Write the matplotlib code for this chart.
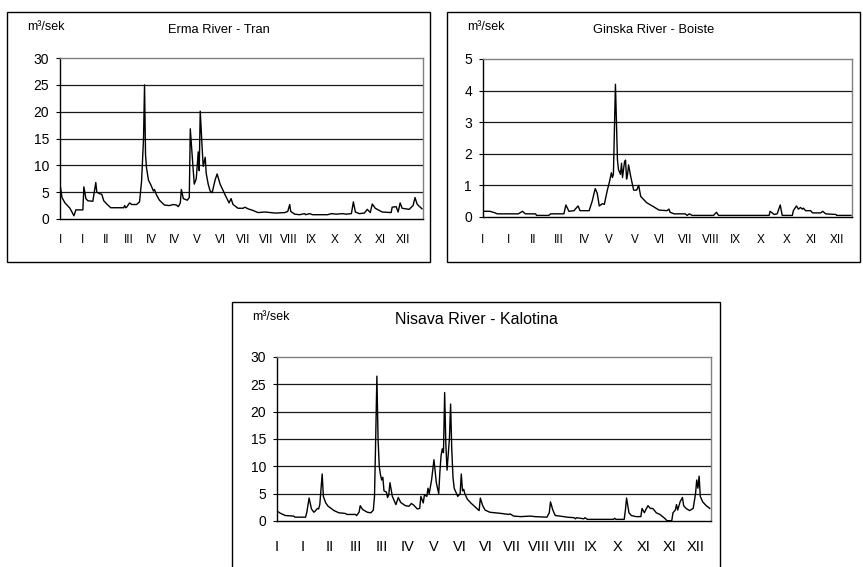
import numpy as np
import matplotlib
matplotlib.use('agg')
import matplotlib.pyplot as plt
from matplotlib.patches import Rectangle

plt.rcParams['font.family'] = ['Liberation Sans', 'DejaVu Sans']

# daily discharge, breakpoints (day of year, m3/s)
erma_day = [0, 2, 5, 10, 14, 16, 23, 24, 26, 28, 33, 36, 37, 40, 42, 44, 47, 51, 64, 65, 66, 67, 70, 72,
            77, 80, 82, 84, 85, 86, 87, 89, 91, 94, 95, 97, 100, 105, 110, 114, 117, 119, 121, 122,
            124, 128, 130, 131, 134, 135, 137, 139, 140, 141, 143, 144, 146, 147, 149, 151, 153, 156,
            158, 161, 166, 170, 172, 174, 179, 184, 186, 189, 194, 199, 206, 217, 226, 229, 231, 232,
            236, 241, 246, 247, 251, 254, 261, 269, 273, 278, 284, 288, 293, 295, 297, 301, 306, 309,
            312, 314, 317, 321, 324, 333, 334, 338, 340, 342, 344, 351, 355, 357, 359, 361, 364]
erma_q = [6.5, 4.0, 3.0, 2.0, 0.6, 1.7, 1.7, 6.0, 3.8, 3.4, 3.3, 6.8, 5.0, 4.7, 4.6, 3.4, 2.8, 2.1, 2.1,
          2.5, 2.1, 2.2, 3.0, 2.7, 2.7, 3.2, 7.0, 15.0, 25.0, 12.0, 9.5, 7.2, 6.5, 5.2, 5.5, 4.5, 3.5,
          2.6, 2.5, 2.7, 2.6, 2.3, 3.0, 5.5, 3.8, 3.5, 4.0, 16.8, 9.0, 6.5, 7.5, 12.5, 9.0, 20.1, 13.0,
          9.8, 11.5, 8.5, 6.5, 5.2, 4.9, 7.3, 8.4, 6.5, 4.5, 3.0, 3.8, 2.7, 2.0, 2.0, 2.2, 1.9, 1.6,
          1.2, 1.3, 1.1, 1.2, 1.4, 2.7, 1.4, 0.9, 0.8, 1.0, 0.8, 1.0, 0.8, 0.8, 0.8, 1.0, 0.9, 1.0,
          0.9, 1.0, 3.2, 1.3, 1.0, 1.1, 1.8, 1.2, 2.8, 2.0, 1.6, 1.3, 1.2, 2.2, 2.3, 1.3, 3.0, 2.0,
          1.8, 2.5, 4.0, 2.8, 2.4, 1.9]

ginska_day = [0, 7, 12, 14, 35, 39, 42, 52, 53, 65, 67, 80, 82, 85, 90, 94, 96, 105, 108, 111, 113, 115,
              118, 120, 123, 125, 127, 128, 129, 131, 133, 134, 136, 137, 138, 140, 141, 142, 143, 144,
              146, 147, 149, 152, 154, 156, 159, 162, 169, 174, 182, 184, 185, 189, 200, 202, 204, 207,
              228, 231, 233, 283, 284, 288, 291, 294, 296, 306, 307, 310, 312, 314, 316, 317, 319, 324,
              326, 334, 336, 339, 349, 350, 364]
ginska_q = [0.18, 0.18, 0.13, 0.1, 0.1, 0.18, 0.1, 0.1, 0.05, 0.05, 0.1, 0.1, 0.38, 0.18, 0.2, 0.35, 0.2,
            0.2, 0.5, 0.9, 0.75, 0.35, 0.42, 0.4, 0.85, 1.1, 1.4, 1.25, 1.35, 4.2, 1.8, 1.5, 1.35, 1.7,
            1.25, 1.75, 1.8, 1.2, 1.35, 1.65, 1.3, 1.15, 0.85, 0.85, 1.0, 0.65, 0.55, 0.45, 0.32, 0.22,
            0.2, 0.25, 0.15, 0.1, 0.1, 0.05, 0.1, 0.05, 0.05, 0.15, 0.05, 0.05, 0.18, 0.08, 0.1, 0.38,
            0.05, 0.05, 0.2, 0.35, 0.25, 0.3, 0.25, 0.28, 0.2, 0.2, 0.13, 0.13, 0.18, 0.1, 0.08, 0.05, 0.05]

nisava_day = [0, 3, 7, 14, 15, 24, 25, 27, 29, 31,
              32, 34, 35, 36, 38, 39, 41, 43, 48, 52,
              57, 59, 66, 67, 69, 70, 72, 76, 79, 81,
              82, 83, 84, 85, 86, 87, 88, 89, 90, 92,
              93, 94, 95, 97, 99, 100, 102, 104, 108, 111,
              113, 115, 118, 120, 121, 123, 124, 126, 127, 128,
              130, 132, 134, 136, 137, 138, 139, 140, 141, 142,
              143, 145, 146, 147, 148, 149, 151, 152, 154, 155,
              156, 157, 158, 160, 163, 167, 170, 171, 173, 175,
              179, 188, 195, 196, 199, 205, 213, 217, 227, 229,
              230, 232, 234, 238, 244, 250, 251, 252, 255, 258,
              259, 261, 283, 284, 285, 292, 293, 294, 296, 298,
              302, 306, 307, 309, 310, 312, 314, 316, 319, 322,
              326, 328, 332, 333, 335, 336, 337, 339, 341, 342,
              344, 347, 350, 352, 353, 354, 355, 356, 358, 361,
              364]
nisava_q = [1.8, 1.4, 1.0, 0.9, 0.7, 0.7, 1.5, 4.2, 2.2, 1.6,
            1.8, 2.3, 2.2, 3.0, 8.6, 4.5, 3.3, 2.7, 1.9, 1.5,
            1.4, 1.2, 1.2, 1.0, 1.6, 2.8, 2.1, 1.6, 1.5, 2.0,
            4.5, 15.0, 26.5, 15.0, 10.0, 8.5, 7.5, 8.0, 5.5, 5.3,
            4.3, 4.8, 7.0, 4.5, 3.5, 3.0, 4.3, 3.4, 2.8, 2.7,
            3.2, 2.9, 2.2, 2.3, 4.5, 3.3, 4.8, 4.5, 6.0, 5.0,
            7.5, 11.2, 7.0, 5.0, 9.0, 12.0, 13.2, 12.5, 23.5, 14.0,
            9.3, 15.0, 21.4, 13.0, 8.0, 6.0, 5.0, 4.5, 5.0, 8.6,
            5.5, 5.8, 5.0, 4.0, 3.3, 2.5, 1.9, 4.2, 2.8, 2.0,
            1.6, 1.4, 1.2, 1.3, 0.9, 0.8, 0.9, 0.8, 0.7, 1.5,
            3.5, 2.0, 1.0, 0.9, 0.7, 0.6, 0.4, 0.6, 0.5, 0.4,
            0.6, 0.3, 0.3, 0.5, 0.3, 0.3, 2.0, 4.2, 1.5, 1.0,
            0.8, 0.8, 2.3, 1.5, 2.0, 2.8, 2.3, 2.3, 1.5, 1.2,
            0.5, 0.05, 0.05, 1.5, 2.0, 3.0, 2.0, 3.5, 4.3, 2.8,
            2.3, 1.9, 2.3, 5.0, 7.5, 6.0, 8.2, 4.5, 3.5, 2.8,
            2.3]

erma_labels = ['I', 'I', 'II', 'III', 'IV', 'IV', 'V', 'VI', 'VII', 'VII', 'VIII', 'IX', 'X', 'X', 'XI', 'XII']
ginska_labels = ['I', 'I', 'II', 'III', 'IV', 'V', 'V', 'VI', 'VII', 'VIII', 'IX', 'X', 'X', 'XI', 'XII']
nisava_labels = ['I', 'I', 'II', 'III', 'III', 'IV', 'V', 'VI', 'VI', 'VII', 'VIII', 'VIII', 'IX', 'X',
                 'XI', 'XI', 'XII']

W, H = 863, 567
fig = plt.figure(figsize=(W / 100, H / 100), dpi=100)


def px_axes(l, t, r, b):
    return fig.add_axes([l / W, 1 - b / H, (r - l) / W, (b - t) / H])


def frame(l, t, r, b):
    fig.add_artist(Rectangle((l / W, 1 - b / H), (r - l) / W, (b - t) / H, transform=fig.transFigure,
                             fill=False, edgecolor='black', lw=1.0))


def hydro(ax, day, q, labels, step, ymax, ystep, title, tsize, xsize, xpad, box):
    ax.plot(day, q, color='black', lw=1.0)
    ax.set_xlim(0, 365)
    ax.set_ylim(0, ymax)
    ax.set_yticks(np.arange(0, ymax + ystep / 2, ystep))
    ax.set_xticks(np.arange(len(labels)) * step)
    ax.set_xticklabels(labels)
    for y in np.arange(ystep, ymax, ystep):
        ax.axhline(y, color='#1a1a1a', lw=0.9, zorder=0)
    for s in ['top', 'right']:
        ax.spines[s].set_color('#808080')
        ax.spines[s].set_linewidth(1.0)
    ax.spines['left'].set_linewidth(1.0)
    ax.spines['bottom'].set_linewidth(1.0)
    ax.tick_params(axis='y', length=3, width=0.8, pad=5, labelsize=10)
    ax.tick_params(axis='x', length=0, pad=xpad, labelsize=xsize)
    l, t, r, b = box
    frame(l, t, r, b)
    fig.text((l + r) / 2 / W, 1 - (t + 18) / H, title, ha='center', va='center', fontsize=tsize)
    fig.text((l + 20) / W, 1 - (t + 15) / H, 'm³/sek', ha='left', va='center', fontsize=9)


ax1 = px_axes(60, 58, 423, 219)
hydro(ax1, erma_day, erma_q, erma_labels, 23, 30, 5, 'Erma River - Tran', 9.3, 8.5, 11, (7, 12, 430, 262))

ax2 = px_axes(483, 59, 852, 217)
hydro(ax2, ginska_day, ginska_q, ginska_labels, 25, 5, 1, 'Ginska River - Boiste', 9.3, 8.5, 12, (447, 12, 860, 262))

ax3 = px_axes(277, 357, 711, 521)
hydro(ax3, nisava_day, nisava_q, nisava_labels, 22, 30, 5, 'Nisava River - Kalotina', 11.5, 10.5, 14, (232, 302, 720, 580))

fig.savefig('out.png', dpi=100)
